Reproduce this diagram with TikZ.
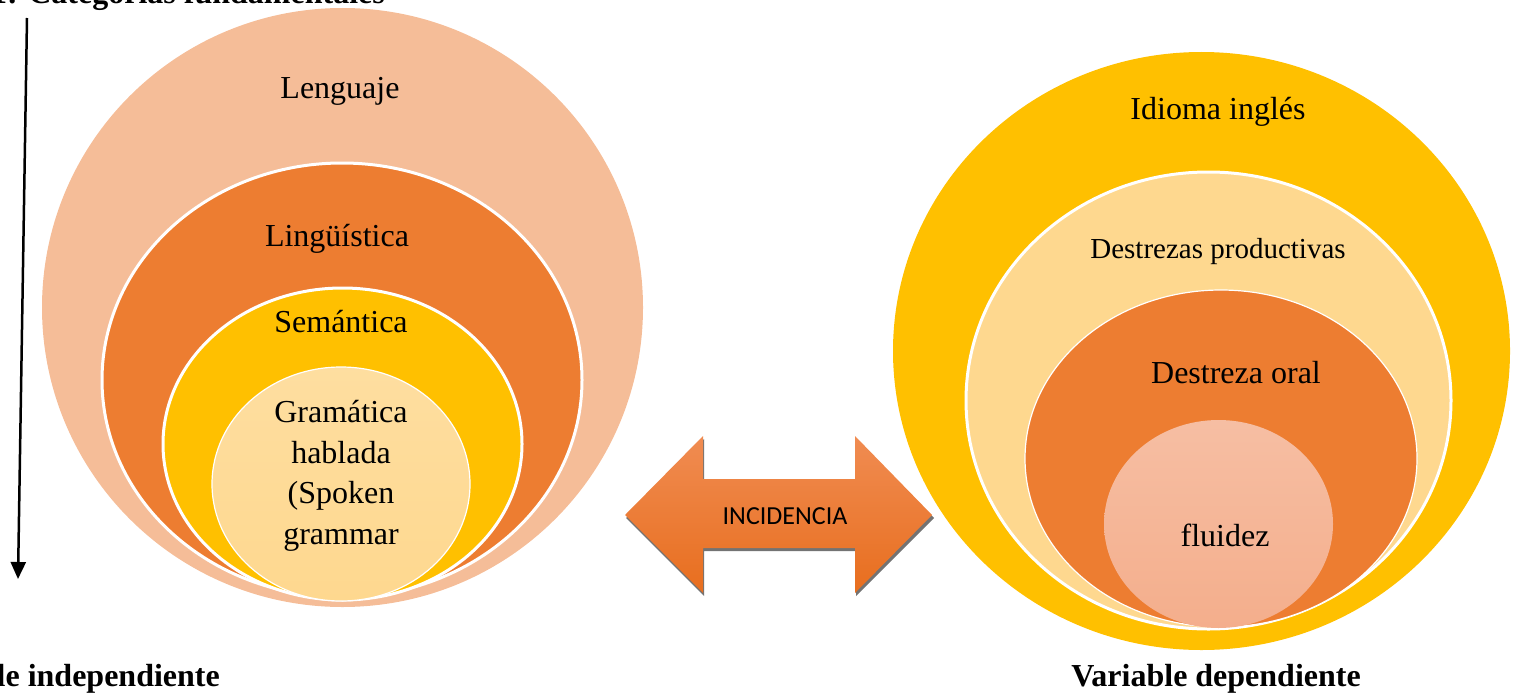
\documentclass[tikz,border=0pt]{standalone}
\usepackage{fontspec}
\setmainfont{Liberation Serif}
\newfontfamily\arrowfont{Carlito}
\usetikzlibrary{shapes.geometric,arrows.meta}

\definecolor{peach}{HTML}{F5BD98}
\definecolor{deeporange}{HTML}{ED7D31}
\definecolor{gold}{HTML}{FFC000}
\definecolor{cream}{HTML}{FED88F}
\definecolor{salmon}{HTML}{F4AE8C}
\definecolor{arrowtop}{HTML}{F08C52}
\definecolor{arrowbot}{HTML}{E86E1E}

\begin{document}
\begin{tikzpicture}[x=1pt, y=-1pt,
  ring/.style={ellipse, inner sep=0pt, outer sep=0pt, draw=white, line width=3pt},
  lbl/.style={font=\fontsize{32}{40.5}\selectfont, inner sep=0pt, anchor=base},
  caption/.style={font=\bfseries\fontsize{32}{38}\selectfont, inner sep=0pt, anchor=base}]
\useasboundingbox (0,0) rectangle (1522,693);

% heading, mostly beyond the upper edge
\node[caption, anchor=base east] (title) at (385,4) {Gráfico 1: Categorías fundamentales};

% vertical arrow on the left
\coordinate (vtop) at (27,18);
\coordinate (vbot) at (18,579);
\draw[line width=2.5pt, -{Triangle[width=15pt,length=17pt]}] (vtop) -- (vbot);

% left nest: independent variable
\node[ring, draw=none, fill=peach, minimum width=601, minimum height=599] (lenguaje) at (342.5,307.5) {};
\node[ring, fill=deeporange, minimum width=480, minimum height=434] (linguistica) at (342,380) {};
\node[ring, fill=gold, minimum width=359, minimum height=312] (semantica) at (342.5,444) {};
\node[ring, line width=1.2pt, top color=cream!85!white, bottom color=cream, minimum width=258, minimum height=234] (gramatica) at (341,484) {};

\node[lbl] (tLenguaje) at (340,98) {Lenguaje};
\node[lbl] (tLing) at (337,246) {Lingüística};
\node[lbl] (tSem) at (341,332) {Semántica};
\node[font=\fontsize{32}{40.5}\selectfont, align=center, inner sep=0pt] (tGram) at (341,476)
  {Gramática\\hablada\\(Spoken\\grammar};

% right nest: dependent variable
\node[ring, draw=none, fill=gold, minimum width=617, minimum height=598] (idioma) at (1201.5,351) {};
\node[ring, fill=cream, minimum width=485, minimum height=457] (destrezas) at (1208.5,400.5) {};
\node[ring, line width=1.2pt, fill=deeporange, minimum width=392, minimum height=337] (oral) at (1221,458.5) {};
\node[ring, draw=none, top color=salmon!80!white, bottom color=salmon, minimum width=229, minimum height=208] (fluidez) at (1218.5,524) {};

\node[lbl] (tIdioma) at (1218,119) {Idioma inglés};
\node[lbl, font=\fontsize{29}{35}\selectfont] (tDestrezas) at (1218,258) {Destrezas productivas};
\node[lbl] (tOral) at (1236,383) {Destreza oral};
\node[lbl] (tFluidez) at (1225,546) {fluidez};

% double arrow between the two nests
\fill[black!55] (626,518) -- (704,439) -- (704,482) -- (856,482) -- (856,439)
  -- (934,518) -- (856,596) -- (856,551) -- (704,551) -- (704,596) -- cycle;
\shade[top color=arrowtop, bottom color=arrowbot] (625,515) -- (703,436) -- (703,479) -- (855,479) -- (855,436)
  -- (932,515) -- (855,593) -- (855,548) -- (703,548) -- (703,593) -- cycle;
\node[font=\arrowfont\fontsize{26}{30}\selectfont, inner sep=0pt, anchor=base] (incidencia) at (785,524) {INCIDENCIA};

% variable captions
\node[caption, anchor=base east] (indep) at (220,686) {Variable independiente};
\node[caption] (dep) at (1216,686) {Variable dependiente};
\end{tikzpicture}
\end{document}
